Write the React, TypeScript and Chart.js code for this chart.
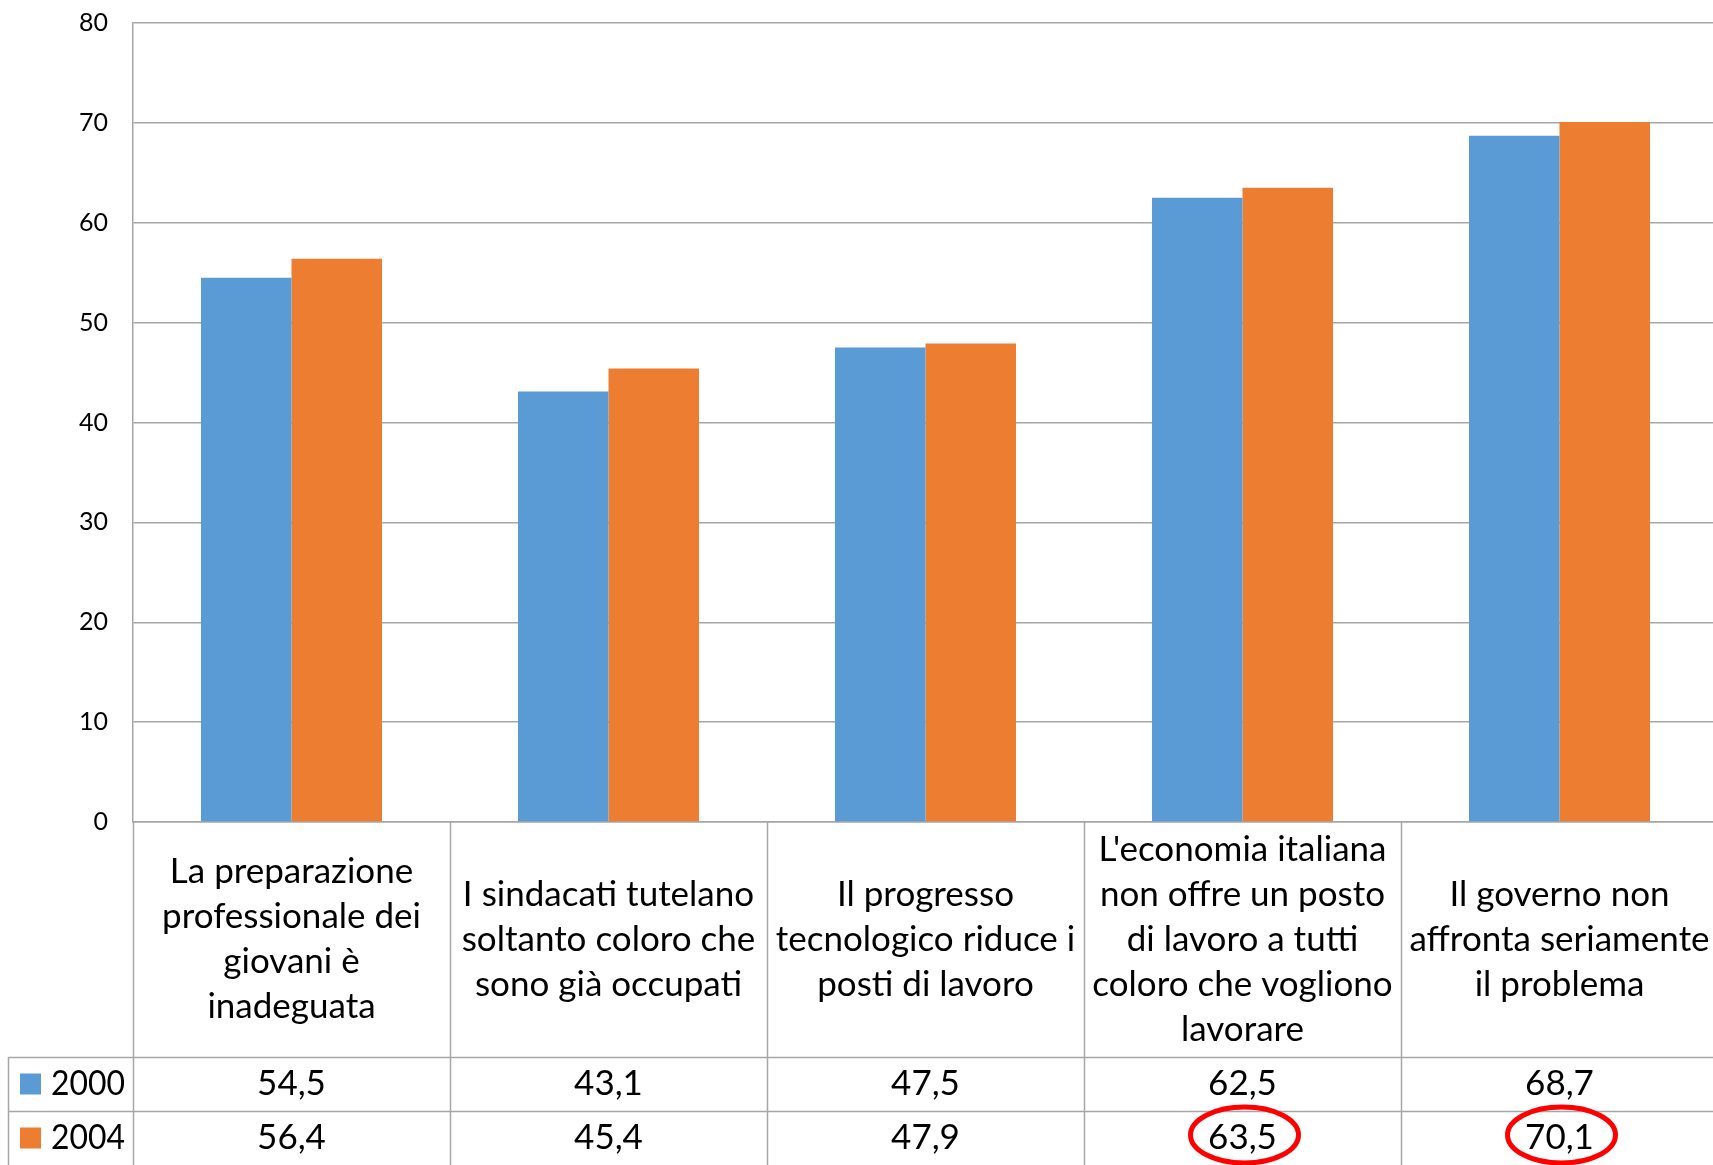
import React, { useEffect, useRef } from 'react';
import { Chart, registerables } from 'chart.js';

Chart.register(...registerables);

const categories: string[][] = [
  ['La preparazione', 'professionale dei', 'giovani è', 'inadeguata'],
  ['I sindacati tutelano', 'soltanto coloro che', 'sono già occupati'],
  ['Il progresso', 'tecnologico riduce i', 'posti di lavoro'],
  ["L'economia italiana", 'non offre un posto', 'di lavoro a tutti', 'coloro che vogliono', 'lavorare'],
  ['Il governo non', 'affronta seriamente', 'il problema'],
];
const seriesNames = ['2000', '2004'];
const values2000 = [54.5, 43.1, 47.5, 62.5, 68.7];
const values2004 = [56.4, 45.4, 47.9, 63.5, 70.1];
const seriesColors = ['#5B9BD5', '#ED7D31'];
const yMin = 0;
const yMax = 80;
const yStep = 10;
const highlighted2004 = [3, 4];

const FONT = 'Lato';
const TABLE_FONT_SIZE = 35;
const LINE_HEIGHT = 45;
const HEADER_HEIGHT = 235;
const ROW_HEIGHT = 54;
const LEGEND_LEFT = 8;
const LINE_COLOR = '#a6a6a6';

const fmt = (v: number) => v.toFixed(1).replace('.', ',');

const tablePlugin = {
  id: 'dataTable',
  afterDraw(chart: any) {
    const ctx: CanvasRenderingContext2D = chart.ctx;
    const area = chart.chartArea;
    const xScale = chart.scales.x;
    const n = categories.length;
    const catW = (area.right - area.left) / n;
    const H = chart.height;
    const W = chart.width;
    const headerTop = area.bottom;
    const headerBottom = headerTop + HEADER_HEIGHT;
    const allSeries = [values2000, values2004];

    ctx.save();
    ctx.strokeStyle = LINE_COLOR;
    ctx.lineWidth = 1.5;
    for (let i = 0; i <= n; i++) {
      const x = Math.round(xScale.getPixelForValue(i) - catW / 2) + 0.5;
      ctx.beginPath();
      ctx.moveTo(x, headerTop);
      ctx.lineTo(x, H);
      ctx.stroke();
    }
    ctx.beginPath();
    ctx.moveTo(LEGEND_LEFT + 0.5, headerBottom);
    ctx.lineTo(LEGEND_LEFT + 0.5, H);
    ctx.stroke();
    for (let r = 0; r < allSeries.length; r++) {
      const y = Math.round(headerBottom + r * ROW_HEIGHT) + 0.5;
      ctx.beginPath();
      ctx.moveTo(LEGEND_LEFT, y);
      ctx.lineTo(W, y);
      ctx.stroke();
    }

    ctx.fillStyle = '#000';
    ctx.font = `${TABLE_FONT_SIZE}px ${FONT}`;
    ctx.textAlign = 'center';
    ctx.textBaseline = 'middle';
    const headerCenter = (headerTop + headerBottom) / 2;
    categories.forEach((lines, i) => {
      const cx = xScale.getPixelForValue(i);
      lines.forEach((line, j) => {
        const y = headerCenter + (j - (lines.length - 1) / 2) * LINE_HEIGHT;
        ctx.fillText(line, cx, y);
      });
    });
    allSeries.forEach((vals, r) => {
      const cy = headerBottom + r * ROW_HEIGHT + ROW_HEIGHT / 2;
      ctx.fillStyle = seriesColors[r];
      ctx.fillRect(20, cy - 10.5, 21, 21);
      ctx.fillStyle = '#000';
      ctx.textAlign = 'left';
      ctx.fillText(seriesNames[r], 51, cy, area.left - 51 - 8);
      ctx.textAlign = 'center';
      vals.forEach((v, i) => {
        ctx.fillText(fmt(v), xScale.getPixelForValue(i), cy);
      });
    });
    ctx.strokeStyle = '#ff0000';
    ctx.lineWidth = 5;
    const cy2 = headerBottom + ROW_HEIGHT + ROW_HEIGHT / 2 - 3;
    highlighted2004.forEach((i) => {
      ctx.beginPath();
      ctx.ellipse(xScale.getPixelForValue(i) + 2, cy2, 54, 28, 0, 0, Math.PI * 2);
      ctx.stroke();
    });
    ctx.restore();
  },
};

export default function App() {
  const ref = useRef<HTMLCanvasElement | null>(null);
  useEffect(() => {
    document.body.style.margin = '0';
    const canvas = ref.current!;
    const chart = new Chart(canvas, {
      type: 'bar',
      data: {
        labels: categories.map((c) => c.join(' ')),
        datasets: [
          { label: seriesNames[0], data: values2000, backgroundColor: seriesColors[0], barPercentage: 1, categoryPercentage: 0.571 },
          { label: seriesNames[1], data: values2004, backgroundColor: seriesColors[1], barPercentage: 1, categoryPercentage: 0.571 },
        ],
      },
      options: {
        responsive: false,
        animation: false,
        devicePixelRatio: 1,
        layout: { padding: { top: 23, bottom: 343, left: 0, right: 2 } },
        plugins: { legend: { display: false }, tooltip: { enabled: false } },
        scales: {
          x: {
            ticks: { display: false },
            grid: { display: false, drawTicks: false },
            border: { display: true, color: LINE_COLOR, width: 1.5 },
          },
          y: {
            min: yMin,
            max: yMax,
            ticks: { stepSize: yStep, padding: 25, color: '#000', font: { family: FONT, size: 25 } },
            grid: { color: LINE_COLOR, lineWidth: 1.5, drawTicks: false },
            border: { display: true, color: LINE_COLOR, width: 1.5 },
            afterFit: (scale: any) => {
              scale.width = 133;
              scale.paddingTop = 15;
              scale.paddingBottom = 15;
            },
          },
        },
      },
      plugins: [tablePlugin],
    });
    return () => chart.destroy();
  }, []);
  return (
    <div style={{ width: 1713, height: 1165, overflow: 'hidden', position: 'relative' }}>
      <canvas ref={ref} width={1720} height={1165} style={{ display: 'block' }} />
    </div>
  );
}
